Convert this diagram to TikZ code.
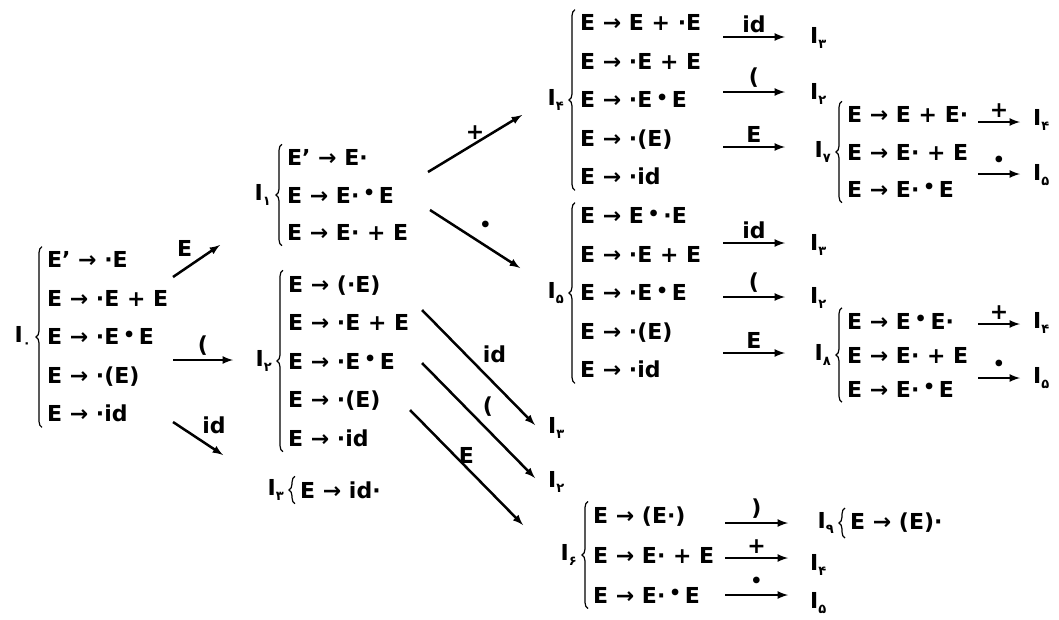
\documentclass[tikz,border=0pt]{standalone}
\usepackage{fontspec}
\setmainfont{DejaVu Sans}
\newfontfamily\fa[Script=Arabic]{DejaVu Sans}
\usetikzlibrary{decorations.pathreplacing}
\newcommand{\Ist}[1]{I\raisebox{-.45ex}{\fontsize{13}{13}\selectfont\fa #1}}
\newcommand{\mul}{\raisebox{.3ex}{\fontsize{19}{19}\selectfont •}}

\begin{document}
\begin{tikzpicture}[x=1pt, y=-1pt,
  itemset/.style={anchor=west, align=left, inner xsep=0pt, inner ysep=5pt, font=\bfseries\fontsize{22}{#1}\selectfont},
  stname/.style={anchor=east, inner sep=0pt, font=\bfseries\fontsize{22}{26}\selectfont},
  target/.style={anchor=west, inner sep=0pt, font=\bfseries\fontsize{22}{26}\selectfont},
  curly/.style={decorate, decoration={brace, amplitude=6pt}, line width=1.2pt},
  trans/.style={line width=2.5pt},
  lab/.style={font=\bfseries\fontsize{22}{26}\selectfont, inner sep=3pt}]
\useasboundingbox (0,0) rectangle (1059,619) ;

\node[itemset=38.5] (S0) at (47,337) {E' → ·E\\E → ·E + E\\E → ·E\,\mul\,E\\E → ·(E)\\E → ·id} ;
\node[itemset=37.5] (S1) at (287,195) {E' → E·\\E → E·\,\mul\,E\\E → E· + E} ;
\node[itemset=38.5] (S2) at (288,361) {E → (·E)\\E → ·E + E\\E → ·E\,\mul\,E\\E → ·(E)\\E → ·id} ;
\node[itemset=26] (S3) at (300,490) {E → id·} ;
\node[itemset=38.5] (S4) at (580,100) {E → E + ·E\\E → ·E + E\\E → ·E\,\mul\,E\\E → ·(E)\\E → ·id} ;
\node[itemset=38.5] (S5) at (580,293) {E → E\,\mul\,·E\\E → ·E + E\\E → ·E\,\mul\,E\\E → ·(E)\\E → ·id} ;
\node[itemset=40] (S6) at (593,555) {E → (E·)\\E → E· + E\\E → E·\,\mul\,E} ;
\node[itemset=37.5] (S7) at (847,152) {E → E + E·\\E → E· + E\\E → E·\,\mul\,E} ;
\node[itemset=34] (S8) at (847,355) {E → E\,\mul\,E·\\E → E· + E\\E → E·\,\mul\,E} ;
\node[itemset=26] (S9) at (850,523) {E → (E)·} ;

\node[stname] (L0) at ([xshift=-16pt]S0.west) {\Ist{۰}} ;
\node[stname] (L1) at ([xshift=-16pt]S1.west) {\Ist{۱}} ;
\node[stname] (L2) at ([xshift=-16pt]S2.west) {\Ist{۲}} ;
\node[stname] (L3) at ([xshift=-16pt]S3.west) {\Ist{۳}} ;
\node[stname] (L4) at ([xshift=-16pt]S4.west) {\Ist{۴}} ;
\node[stname] (L5) at ([xshift=-16pt]S5.west) {\Ist{۵}} ;
\node[stname] (L6) at ([xshift=-16pt]S6.west) {\Ist{۶}} ;
\node[stname] (L7) at ([xshift=-16pt]S7.west) {\Ist{۷}} ;
\node[stname] (L8) at ([xshift=-16pt]S8.west) {\Ist{۸}} ;
\node[stname] (L9) at ([xshift=-16pt]S9.west) {\Ist{۹}} ;

\draw[curly] ([xshift=-5pt]S0.south west) -- ([xshift=-5pt]S0.north west) ;
\draw[curly] ([xshift=-5pt]S1.south west) -- ([xshift=-5pt]S1.north west) ;
\draw[curly] ([xshift=-5pt]S2.south west) -- ([xshift=-5pt]S2.north west) ;
\draw[curly] ([xshift=-5pt]S3.south west) -- ([xshift=-5pt]S3.north west) ;
\draw[curly] ([xshift=-5pt]S4.south west) -- ([xshift=-5pt]S4.north west) ;
\draw[curly] ([xshift=-5pt]S5.south west) -- ([xshift=-5pt]S5.north west) ;
\draw[curly] ([xshift=-5pt]S6.south west) -- ([xshift=-5pt]S6.north west) ;
\draw[curly] ([xshift=-5pt]S7.south west) -- ([xshift=-5pt]S7.north west) ;
\draw[curly] ([xshift=-5pt]S8.south west) -- ([xshift=-5pt]S8.north west) ;
\draw[curly] ([xshift=-5pt]S9.south west) -- ([xshift=-5pt]S9.north west) ;

\node[target] (T2i) at (548,428) {\Ist{۳}} ;
\node[target] (T2p) at (548,482) {\Ist{۲}} ;
\node[target] (T4i) at (810,38) {\Ist{۳}} ;
\node[target] (T4p) at (810,94) {\Ist{۲}} ;
\node[target] (T5i) at (810,245) {\Ist{۳}} ;
\node[target] (T5p) at (810,298) {\Ist{۲}} ;
\node[target] (T7p) at (1033,120) {\Ist{۴}} ;
\node[target] (T7m) at (1033,175) {\Ist{۵}} ;
\node[target] (T8p) at (1033,323) {\Ist{۴}} ;
\node[target] (T8m) at (1033,378) {\Ist{۵}} ;
\node[target] (T6p) at (810,565) {\Ist{۴}} ;
\node[target] (T6m) at (810,603) {\Ist{۵}} ;

\coordinate (a0E) at (173,277) ; \coordinate (b0E) at (220,245) ;
\coordinate (a0p) at (173,360) ; \coordinate (b0p) at (233,360) ;
\coordinate (a0i) at (173,422) ; \coordinate (b0i) at (223,455) ;
\coordinate (a1p) at (428,172) ; \coordinate (b1p) at (522,115) ;
\coordinate (a1m) at (430,210) ; \coordinate (b1m) at (520,268) ;
\coordinate (a2i) at (422,310) ; \coordinate (b2i) at (535,425) ;
\coordinate (a2p) at (422,363) ; \coordinate (b2p) at (535,478) ;
\coordinate (a2E) at (410,410) ; \coordinate (b2E) at (523,525) ;
\coordinate (a4i) at (723,37) ; \coordinate (b4i) at (785,37) ;
\coordinate (a4p) at (723,92) ; \coordinate (b4p) at (785,92) ;
\coordinate (a4E) at (723,147) ; \coordinate (b4E) at (785,147) ;
\coordinate (a5i) at (723,243) ; \coordinate (b5i) at (785,243) ;
\coordinate (a5p) at (723,297) ; \coordinate (b5p) at (785,297) ;
\coordinate (a5E) at (723,353) ; \coordinate (b5E) at (785,353) ;
\coordinate (a7p) at (978,122) ; \coordinate (b7p) at (1020,122) ;
\coordinate (a7m) at (978,174) ; \coordinate (b7m) at (1020,174) ;
\coordinate (a8p) at (978,324) ; \coordinate (b8p) at (1020,324) ;
\coordinate (a8m) at (978,378) ; \coordinate (b8m) at (1020,378) ;
\coordinate (a6r) at (725,523) ; \coordinate (b6r) at (788,523) ;
\coordinate (a6p) at (725,558) ; \coordinate (b6p) at (788,558) ;
\coordinate (a6m) at (725,595) ; \coordinate (b6m) at (788,595) ;

\draw[trans] [->] [>=latex] (a0E) -- (b0E) node[lab, midway, above left] {E} ;
\draw[trans] [->] [>=latex] (a0p) -- (b0p) node[lab, midway, above] {(} ;
\draw[trans] [->] [>=latex] (a0i) -- (b0i) node[lab, midway, above right] {id} ;
\draw[trans] [->] [>=latex] (a1p) -- (b1p) node[lab, midway, above] {+} ;
\draw[trans] [->] [>=latex] (a1m) -- (b1m) node[lab, midway, above right] {\mul} ;
\draw[trans] [->] [>=latex] (a2i) -- (b2i) node[lab, midway, above right] {id} ;
\draw[trans] [->] [>=latex] (a2p) -- (b2p) node[lab, midway, above right] {(} ;
\draw[trans] [->] [>=latex] (a2E) -- (b2E) node[lab, midway, above] {E} ;
\draw[trans] [->] [>=latex] (a4i) -- (b4i) node[lab, midway, above] {id} ;
\draw[trans] [->] [>=latex] (a4p) -- (b4p) node[lab, midway, above] {(} ;
\draw[trans] [->] [>=latex] (a4E) -- (b4E) node[lab, midway, above] {E} ;
\draw[trans] [->] [>=latex] (a5i) -- (b5i) node[lab, midway, above] {id} ;
\draw[trans] [->] [>=latex] (a5p) -- (b5p) node[lab, midway, above] {(} ;
\draw[trans] [->] [>=latex] (a5E) -- (b5E) node[lab, midway, above] {E} ;
\draw[trans] [->] [>=latex] (a7p) -- (b7p) node[lab, midway, above] {+} ;
\draw[trans] [->] [>=latex] (a7m) -- (b7m) node[lab, midway, above] {\mul} ;
\draw[trans] [->] [>=latex] (a8p) -- (b8p) node[lab, midway, above] {+} ;
\draw[trans] [->] [>=latex] (a8m) -- (b8m) node[lab, midway, above] {\mul} ;
\draw[trans] [->] [>=latex] (a6r) -- (b6r) node[lab, midway, above] {)} ;
\draw[trans] [->] [>=latex] (a6p) -- (b6p) node[lab, midway, above] {+} ;
\draw[trans] [->] [>=latex] (a6m) -- (b6m) node[lab, midway, above] {\mul} ;
\end{tikzpicture}
\end{document}
